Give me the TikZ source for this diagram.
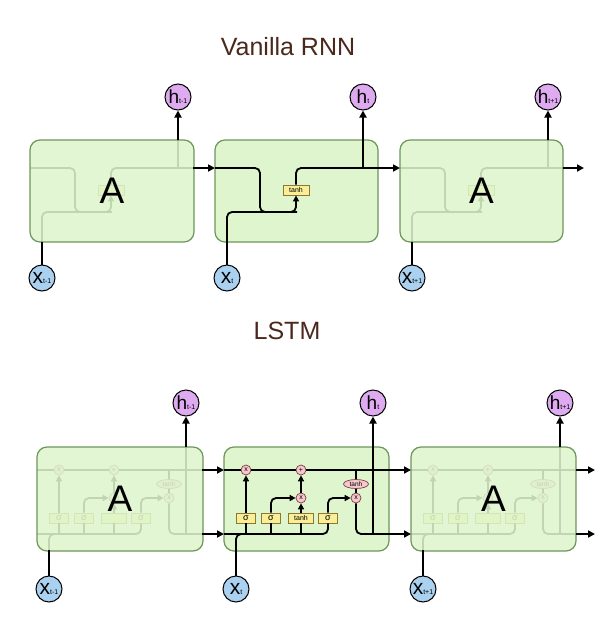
\documentclass[tikz,border=0pt]{standalone}
\usepackage{fontspec}
\setmainfont{Liberation Sans}
\usetikzlibrary{arrows.meta,shapes.geometric}
\definecolor{boxfill}{RGB}{222,245,206}
\definecolor{boxline}{RGB}{110,150,90}
\definecolor{hfill}{RGB}{222,170,240}
\definecolor{xfill}{RGB}{170,210,240}
\definecolor{gatefill}{RGB}{250,238,150}
\definecolor{gateline}{RGB}{140,120,50}
\definecolor{opfill}{RGB}{245,200,205}
\definecolor{opline}{RGB}{130,60,70}
\definecolor{titlecol}{RGB}{75,40,28}
\tikzset{
 cellbox/.style={draw=boxline, line width=1.2pt, fill=boxfill, rounded corners=10pt, inner sep=0pt},
 fadebox/.style={cellbox, fill opacity=0.87, text opacity=1},
 wire/.style={line width=1.8pt, black, rounded corners=5pt},
 arr/.style={wire, -{Triangle[length=7pt,width=7pt]}},
 sarr/.style={wire, -{Triangle[length=6pt,width=6pt]}},
 hnode/.style={circle, draw=black, line width=1pt, fill=hfill, minimum size=26pt, inner sep=0pt},
 xnode/.style={circle, draw=black, line width=1pt, fill=xfill, minimum size=26pt, inner sep=0pt},
 gate/.style={rectangle, draw=gateline, line width=0.8pt, fill=gatefill, minimum height=10pt, inner sep=0pt, font=\fontsize{7}{7}\selectfont},
 sgate/.style={gate, minimum width=19pt, font=\fontsize{9}{9}\selectfont},
 op/.style={circle, draw=opline, line width=0.7pt, fill=opfill, minimum size=10pt, inner sep=0pt, font=\fontsize{7}{7}\selectfont},
 opell/.style={ellipse, draw=opline, line width=0.7pt, fill=opfill, minimum width=25pt, minimum height=9pt, inner sep=0pt, font=\fontsize{6.5}{6.5}\selectfont},
 ttl/.style={font=\fontsize{25}{25}\selectfont, text=titlecol},
 bigA/.style={font=\fontsize{37}{37}\selectfont}
}
\newcommand\hlab[1]{{\fontsize{19}{19}\selectfont h}{\fontsize{7}{7}\selectfont #1}}
\newcommand\xlab[1]{{\fontsize{21}{21}\selectfont x}{\fontsize{7}{7}\selectfont #1}}
% vanilla cell internals (middle-cell coordinates, shifted)
\newcommand\vcell[3]{%
 \begin{scope}[shift={(#2,0)}]
  \node[gate, minimum width=26pt] (#1t) at (296,190) {#3};
  \coordinate (#1in) at (215,168);
  \coordinate (#1out) at (378,168);
  \coordinate (#1xin) at (227,242);
  \coordinate (#1hup) at (363,140);
  \draw[wire] (#1in) -- (260,168) -- (260,212) -- (297,212);
  \draw[sarr] (#1xin) -- (227,212) -- (296,212) -- (#1t.south);
  \draw[wire] (#1t.north) -- (296,168) -- (#1out);
  \draw[wire] (363,168) -- (#1hup);
 \end{scope}}
% LSTM cell internals
\newcommand\lcell[4]{%
 \begin{scope}[shift={(#2,0)}]
  \node[op] (#1f) at (246,470) {x};
  \node[op] (#1p) at (301,470) {+};
  \node[op] (#1i) at (301,498) {#4};
  \node[op] (#1o) at (356,498) {x};
  \node[opell] (#1th) at (356,484) {tanh};
  \node[sgate] (#1ga) at (246,518) {σ};
  \node[sgate] (#1gb) at (271,518) {σ};
  \node[gate, minimum width=25pt] (#1gc) at (301,518) {#3};
  \node[sgate] (#1gd) at (328,518) {σ};
  \coordinate (#1cin) at (224,470);
  \coordinate (#1cout) at (389,470);
  \coordinate (#1hin) at (224,534);
  \coordinate (#1hout) at (389,534);
  \coordinate (#1xin) at (236,550);
  \coordinate (#1hup) at (373,447);
  \draw[wire] (#1cin) -- (#1f);
  \draw[wire] (#1f) -- (#1p);
  \draw[wire] (#1p) -- (#1cout);
  \draw[wire] (356,470) -- (#1th);
  \draw[wire] (#1th) -- (#1o);
  \draw[wire] (#1o) -- (356,534) -- (#1hout);
  \draw[wire] (373,534) -- (#1hup);
  \draw[wire] (#1hin) -- (328,534) -- (#1gd);
  \draw[wire] (#1xin) -- (236,534) -- (246,534);
  \draw[wire] (246,534) -- (#1ga);
  \draw[wire] (271,534) -- (#1gb);
  \draw[wire] (301,534) -- (#1gc);
  \draw[sarr] (#1ga) -- (#1f);
  \draw[sarr] (#1gb) -- (271,498) -- (#1i);
  \draw[sarr] (#1gc) -- (#1i);
  \draw[sarr] (#1i) -- (#1p);
  \draw[sarr] (#1gd) -- (328,498) -- (#1o);
 \end{scope}}
\begin{document}
\begin{tikzpicture}[x=1pt,y=-1pt]
\useasboundingbox[fill=white] (0,0) rectangle (607,619);
% ---------- Vanilla RNN ----------
\node[ttl] (t1) at (288,47) {Vanilla RNN};
\vcell{va}{-185}{}
\node[fadebox, bigA, minimum width=164pt, minimum height=102pt] (boxa) at (112,191) {A};
\node[cellbox, minimum width=163pt, minimum height=102pt] (boxb) at (296.5,191) {};
\vcell{vb}{0}{tanh}
\vcell{vc}{185}{}
\node[fadebox, bigA, minimum width=163pt, minimum height=102pt] (boxc) at (481.5,191) {A};
\node[hnode] (h1) at (178,97) {\hlab{t-1}};
\node[hnode] (h2) at (363,97) {\hlab{t}};
\node[hnode] (h3) at (548,97) {\hlab{t+1}};
\node[xnode] (x1) at (42,278) {\xlab{t-1}};
\node[xnode] (x2) at (227,278) {\xlab{t}};
\node[xnode] (x3) at (412,278) {\xlab{t+1}};
\coordinate (vend) at (584,168);
\draw[arr] (vahup) -- (h1);
\draw[arr] (vbhup) -- (h2);
\draw[arr] (vchup) -- (h3);
\draw[wire] (x1) -- (vaxin);
\draw[wire] (x2) -- (vbxin);
\draw[wire] (x3) -- (vcxin);
\draw[arr] (vaout) -- (vbin);
\draw[arr] (vbout) -- (vcin);
\draw[arr] (vcout) -- (vend);
% ---------- LSTM ----------
\node[ttl] (t2) at (287,331) {LSTM};
\lcell{la}{-187}{}{}
\node[fadebox, bigA, minimum width=166pt, minimum height=104pt] (lboxa) at (120,499) {A};
\node[cellbox, minimum width=165pt, minimum height=104pt] (lboxb) at (306.5,499) {};
\lcell{lb}{0}{tanh}{x}
\lcell{lc}{187}{}{}
\node[fadebox, bigA, minimum width=165pt, minimum height=104pt] (lboxc) at (493.5,499) {A};
\node[hnode] (lh1) at (186,403) {\hlab{t-1}};
\node[hnode] (lh2) at (373,403) {\hlab{t}};
\node[hnode] (lh3) at (560,403) {\hlab{t+1}};
\node[xnode] (lx1) at (49,589) {\xlab{t-1}};
\node[xnode] (lx2) at (236,589) {\xlab{t}};
\node[xnode] (lx3) at (423,589) {\xlab{t+1}};
\coordinate (lend1) at (595,470);
\coordinate (lend2) at (595,534);
\draw[arr] (lahup) -- (lh1);
\draw[arr] (lbhup) -- (lh2);
\draw[arr] (lchup) -- (lh3);
\draw[wire] (lx1) -- (laxin);
\draw[wire] (lx2) -- (lbxin);
\draw[wire] (lx3) -- (lcxin);
\draw[arr] (lacout) -- (lbcin);
\draw[arr] (lahout) -- (lbhin);
\draw[arr] (lbcout) -- (lccin);
\draw[arr] (lbhout) -- (lchin);
\draw[arr] (lccout) -- (lend1);
\draw[arr] (lchout) -- (lend2);
\end{tikzpicture}
\end{document}
